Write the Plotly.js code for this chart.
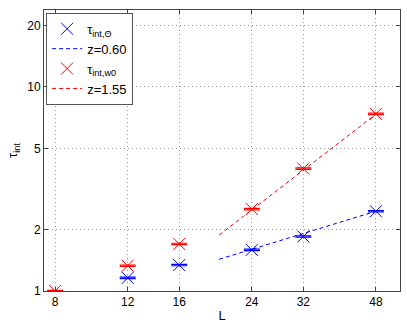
<!DOCTYPE html>
<html>
<head>
<meta charset="utf-8">
<script src="https://cdn.plot.ly/plotly-3.0.1.min.js"></script>
<style>
  html, body { margin: 0; padding: 0; background: #fff; }
  #chart { width: 407px; height: 323px; }
</style>
</head>
<body>
<div id="chart"></div>
<script>
// measured autocorrelation times vs lattice size
const sizesTheta = [12, 16, 24, 32, 48];
const tauTheta = [1.16, 1.34, 1.59, 1.85, 2.46];
const sizesW0 = [8, 12, 16, 24, 32, 48];
const tauW0 = [1.0, 1.33, 1.70, 2.52, 3.98, 7.38];

// power-law fits, drawn from L=20 to L=48
const fitL = [20, 48];
const fitTheta = [1.43, 2.46];
const fitW0 = [1.88, 7.35];

const tickVals = [8, 12, 16, 24, 32, 48];
const yTickVals = [1, 2, 5, 10, 20];

const font = "Liberation Sans, Arial, sans-serif";

function dataTrace(x, y, color, name) {
  return {
    x, y,
    mode: "markers",
    name,
    marker: { symbol: "x-thin-open", size: 12, line: { color, width: 1 }, color },
    error_y: { type: "percent", value: 0.8, width: 8, thickness: 1.2, color },
  };
}

function fitTrace(y, color, name) {
  return {
    x: fitL, y,
    mode: "lines",
    name,
    line: { color, width: 1, dash: "4px,3px" },
  };
}

const traces = [
  dataTrace(sizesTheta, tauTheta, "#0000ff", "τ<sub>int,Θ</sub>"),
  fitTrace(fitTheta, "#0000ff", "z=0.60"),
  dataTrace(sizesW0, tauW0, "#ff0000", "τ<sub>int,w0</sub>"),
  fitTrace(fitW0, "#ff0000", "z=1.55"),
];

const axisCommon = {
  showline: true,
  linecolor: "#444",
  linewidth: 1,
  mirror: "allticks",
  ticks: "inside",
  ticklen: 4,
  tickcolor: "#444",
  showgrid: true,
  gridcolor: "#999",
  griddash: "1px,3px",
  zeroline: false,
  tickfont: { size: 12, family: font, color: "#000" },
};

const layout = {
  width: 407,
  height: 323,
  margin: { l: 44, r: 7, t: 10, b: 32 },
  paper_bgcolor: "#fff",
  plot_bgcolor: "#fff",
  showlegend: true,
  legend: {
    x: 0.006, y: 0.99, xanchor: "left", yanchor: "top",
    bgcolor: "#fff",
    bordercolor: "#555",
    borderwidth: 1,
    font: { size: 13, family: font, color: "#000" },
    tracegroupgap: 0,
    itemwidth: 30,
  },
  xaxis: Object.assign({}, axisCommon, {
    type: "log",
    range: [Math.log10(7.52), Math.log10(54.9)],
    tickvals: tickVals,
    ticktext: tickVals.map(String),
    title: { text: "L", font: { size: 13, family: font, color: "#000" }, standoff: 4 },
  }),
  yaxis: Object.assign({}, axisCommon, {
    type: "log",
    range: [0, 1.377],
    tickvals: yTickVals,
    ticktext: yTickVals.map(String),
    title: { text: "τ<sub>int</sub>", font: { size: 13, family: font, color: "#000" }, standoff: 6 },
  }),
};

Plotly.newPlot("chart", traces, layout, { displayModeBar: false, staticPlot: true });
</script>
</body>
</html>
